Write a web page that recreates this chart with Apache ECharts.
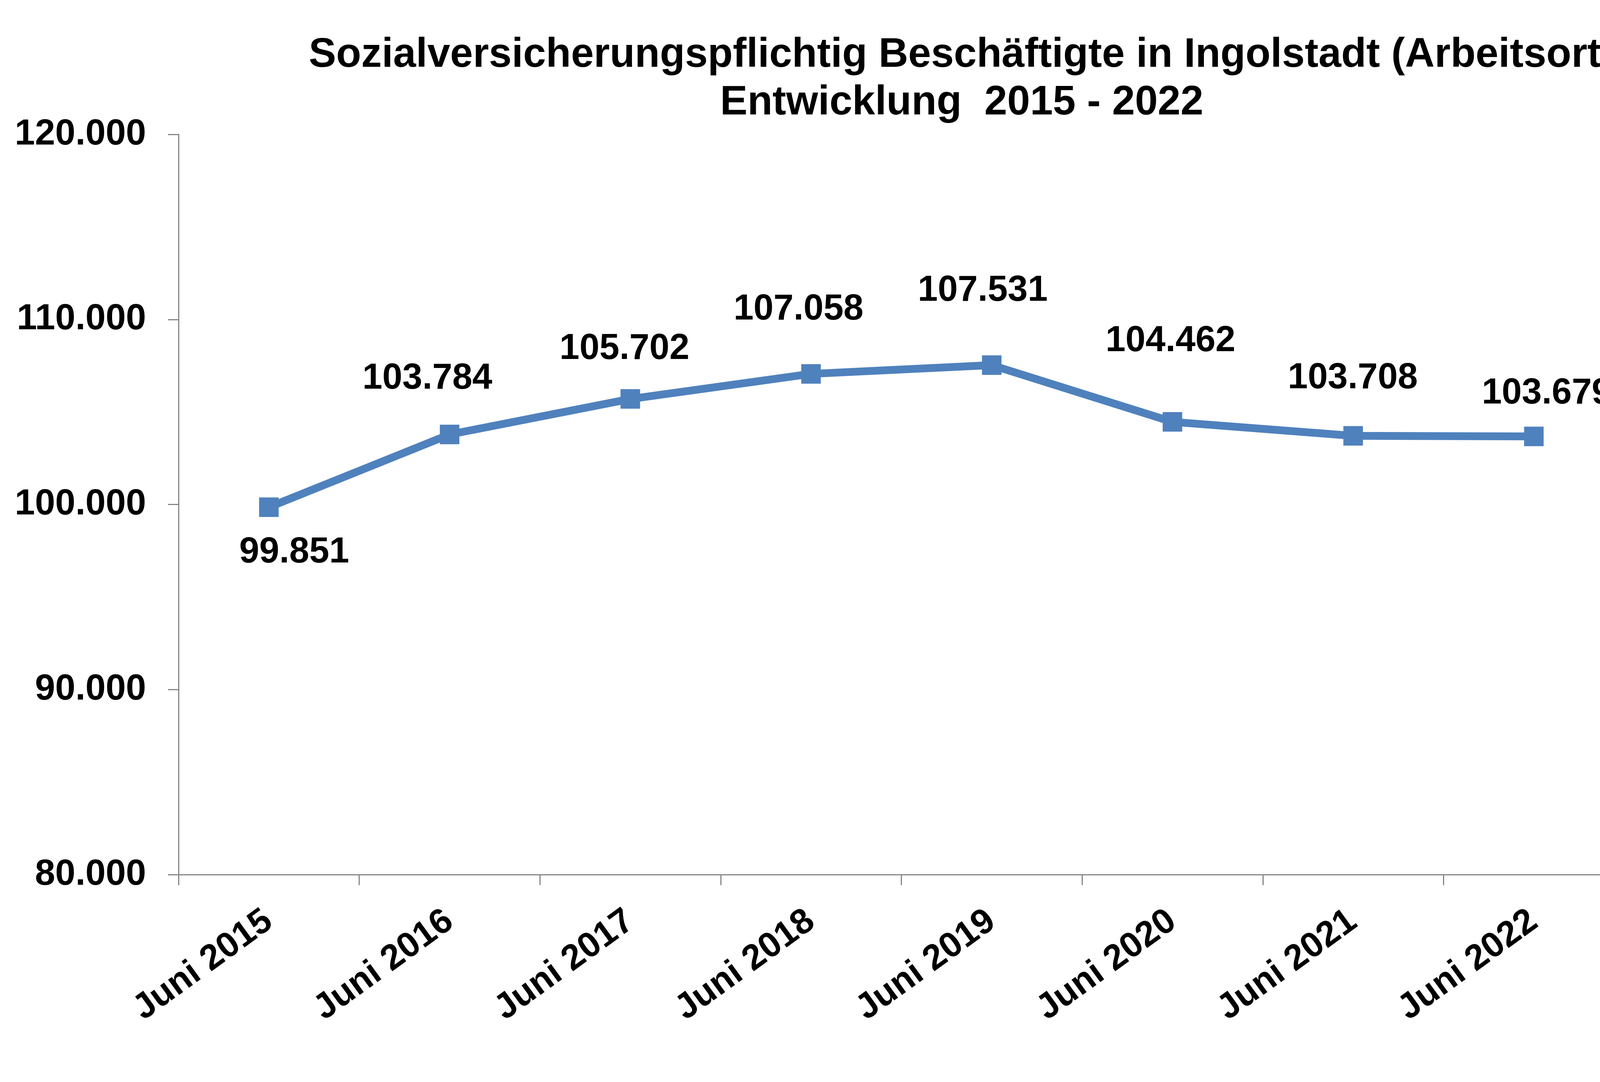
<!DOCTYPE html>
<html>
<head>
<meta charset="utf-8">
<title>Beschäftigte Ingolstadt</title>
<script src="https://cdn.jsdelivr.net/npm/echarts@6/dist/echarts.min.js"></script>
<style>
    html, body { margin: 0; padding: 0; background: #fff; }
    #main { width: 4288px; height: 2770px; }
</style>
</head>
<body>
<div id="main"></div>
<script>
var categories = ['Juni 2015', 'Juni 2016', 'Juni 2017', 'Juni 2018', 'Juni 2019', 'Juni 2020', 'Juni 2021', 'Juni 2022'];
var beschaeftigte = [99851, 103784, 105702, 107058, 107531, 104462, 103708, 103679];
var yTicks = [80000, 90000, 100000, 110000, 120000];

// label placement like in the excel chart (offset from the point)
var labelOffsets = [[65, 116], [-57, -143], [-15, -128], [-32, -165], [-23, -190], [-5, -206], [-1, -147], [33, -110]];

function fmt(v) {
    return String(v).replace(/\B(?=(\d{3})+(?!\d))/g, '.');
}

var font = 'Liberation Sans, Arial, sans-serif';

var myChart = echarts.init(document.getElementById('main'));

var seriesData = beschaeftigte.map(function(v, i) {
    return {
        value: v,
        label: { offset: labelOffsets[i] }
    };
});

var option = {
    backgroundColor: '#ffffff',
    animation: false,
    title: {
        text: 'Sozialversicherungspflichtig Beschäftigte in Ingolstadt (Arbeitsort)\nEntwicklung  2015 - 2022',
        left: 2457,
        top: 76,
        textAlign: 'center',
        textStyle: {
            fontFamily: font,
            fontWeight: 'bold',
            fontSize: 105,
            lineHeight: 122,
            color: '#000'
        }
    },
    grid: {
        left: 457,
        right: 130,
        top: 344,
        bottom: 531
    },
    xAxis: {
        type: 'category',
        data: categories,
        boundaryGap: true,
        axisLine: { lineStyle: { color: '#878787', width: 3 } },
        axisTick: { show: true, length: 27, lineStyle: { color: '#878787', width: 3 } },
        axisLabel: {
            rotate: 36,
            margin: 110,
            fontFamily: font,
            fontWeight: 'bold',
            fontSize: 91,
            color: '#000'
        },
        splitLine: { show: false }
    },
    yAxis: {
        type: 'value',
        min: yTicks[0],
        max: yTicks[yTicks.length - 1],
        interval: yTicks[1] - yTicks[0],
        axisLine: { show: true, lineStyle: { color: '#878787', width: 3 } },
        axisTick: { show: true, length: 27, lineStyle: { color: '#878787', width: 3 } },
        axisLabel: {
            margin: 83,
            fontFamily: font,
            fontWeight: 'bold',
            fontSize: 93,
            color: '#000',
            formatter: function(v) { return fmt(v); }
        },
        splitLine: { show: false }
    },
    series: [{
        type: 'line',
        data: seriesData,
        symbol: 'rect',
        symbolSize: 50,
        lineStyle: { color: '#4F81BD', width: 20 },
        itemStyle: { color: '#4F81BD' },
        label: {
            show: true,
            position: 'inside',
            align: 'center',
            verticalAlign: 'middle',
            fontFamily: font,
            fontWeight: 'bold',
            fontSize: 92,
            color: '#000',
            formatter: function(p) { return fmt(p.value); }
        }
    }]
};

myChart.setOption(option);
</script>
</body>
</html>
